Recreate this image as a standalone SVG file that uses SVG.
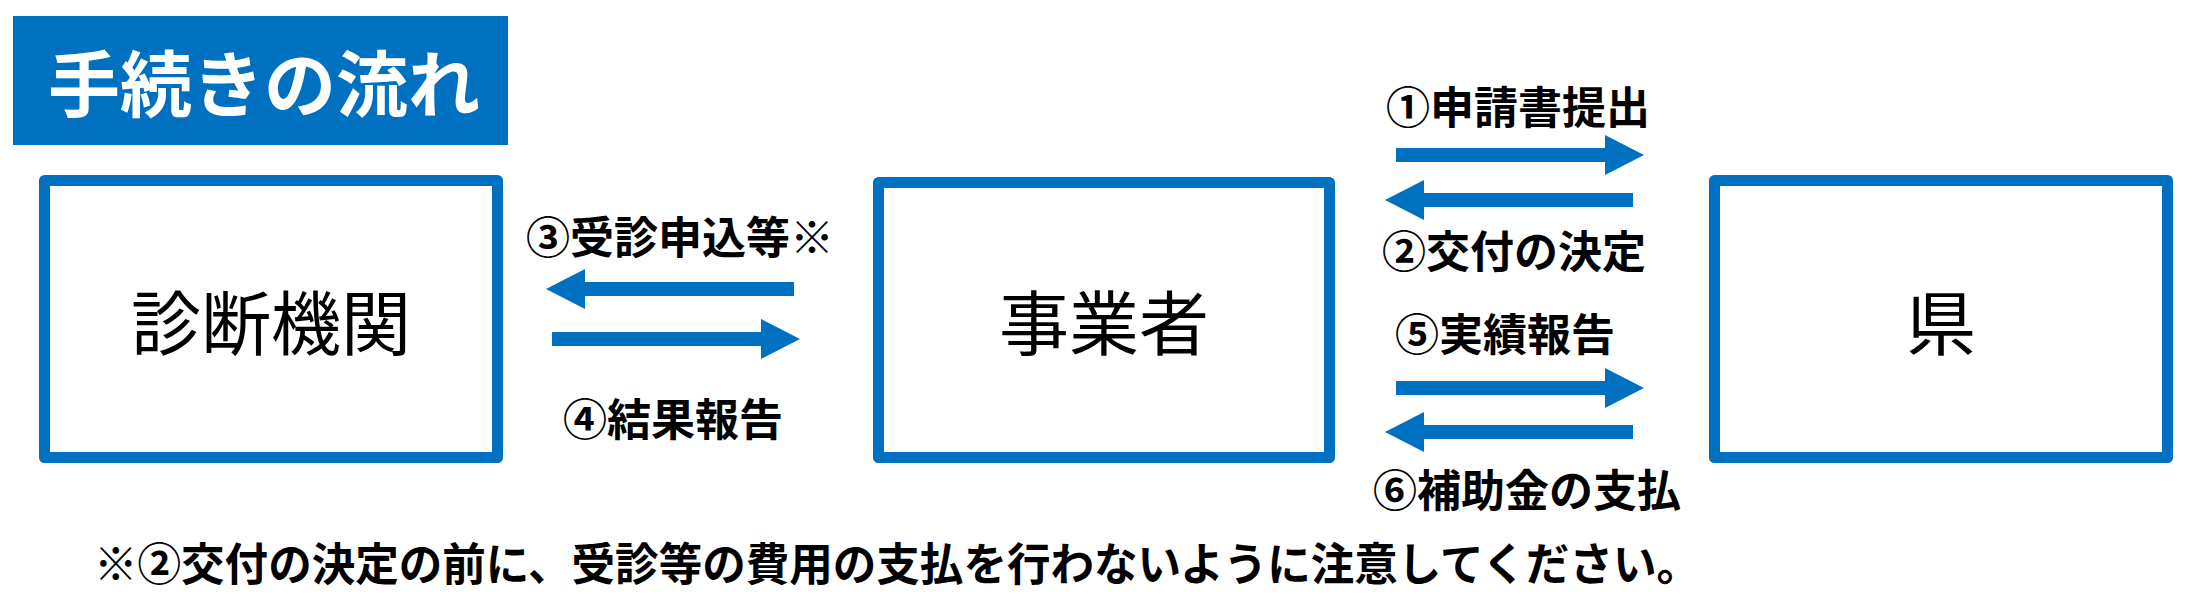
<svg xmlns="http://www.w3.org/2000/svg" xmlns:xlink="http://www.w3.org/1999/xlink" width="2199" height="603" viewBox="0 0 2199 603">
<style>
.box{fill:#fff;stroke:#0070C0;stroke-width:11;stroke-linejoin:round}
.node{font-family:"Noto Sans CJK JP","Noto Sans CJK SC",sans-serif;font-size:70px;fill:#000;text-anchor:middle}
.lbl{font-family:"Noto Sans CJK JP","Noto Sans CJK SC",sans-serif;font-size:44px;font-weight:700;fill:#000}
.title{font-family:"Noto Sans CJK JP","Noto Sans CJK SC",sans-serif;font-size:72px;font-weight:700;fill:#fff}
.note{font-family:"Noto Sans CJK JP","Noto Sans CJK SC",sans-serif;font-size:45px;font-weight:700;fill:#000}
.arr{fill:#0070C0}
</style>
<defs>
<path id="arr" d="M0,-7 L209,-7 L209,-20 L248,0 L209,20 L209,7 L0,7 Z"/>
</defs>
<rect width="2199" height="603" fill="#fff"/>
<g id="header">
<rect x="13" y="16" width="495" height="129" fill="#0070C0"/>
<text class="title" x="48" y="111">手続きの流れ</text>
</g>
<g id="node-shindan">
<rect class="box" x="44.5" y="180.5" width="453" height="277"/>
<text class="node" x="271" y="350">診断機関</text>
</g>
<g id="node-jigyosha">
<rect class="box" x="878.5" y="182.5" width="451" height="275"/>
<text class="node" x="1104" y="350">事業者</text>
</g>
<g id="node-ken">
<rect class="box" x="1714.5" y="180.5" width="453" height="277"/>
<text class="node" x="1941" y="350">県</text>
</g>
<g id="connectors" class="arr">
<use xlink:href="#arr" href="#arr" transform="translate(794,289) scale(-1,1)"/>
<use xlink:href="#arr" href="#arr" transform="translate(552,339)"/>
<use xlink:href="#arr" href="#arr" transform="translate(1396,155)"/>
<use xlink:href="#arr" href="#arr" transform="translate(1633,200) scale(-1,1)"/>
<use xlink:href="#arr" href="#arr" transform="translate(1396,388)"/>
<use xlink:href="#arr" href="#arr" transform="translate(1633,432) scale(-1,1)"/>
</g>
<g id="labels">
<text class="lbl" x="526" y="254">③受診申込等※</text>
<text class="lbl" x="563" y="436">④結果報告</text>
<text class="lbl" x="1386" y="124">①申請書提出</text>
<text class="lbl" x="1382" y="268">②交付の決定</text>
<text class="lbl" x="1395" y="351">⑤実績報告</text>
<text class="lbl" x="1373" y="507">⑥補助金の支払</text>
</g>
<g id="footnote">
<text class="note" x="94" y="581" textLength="1606" lengthAdjust="spacingAndGlyphs">※②交付の決定の前に、受診等の費用の支払を行わないように注意してください。</text>
</g>
</svg>
